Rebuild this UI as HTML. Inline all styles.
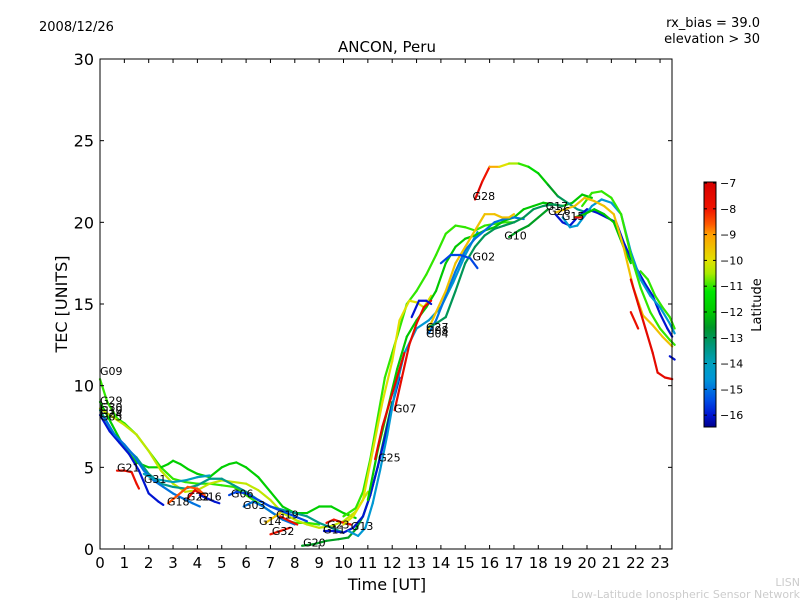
<!DOCTYPE html>
<html><head><meta charset="utf-8"><style>
body{margin:0;background:#fff;}
svg{display:block;font-family:"DejaVu Sans","Liberation Sans",sans-serif;}
</style></head><body>
<svg id="chart" width="800" height="600" viewBox="0 0 800 600">
<rect width="800" height="600" fill="#fff"/>
<text x="39" y="31" font-size="13">2008/12/26</text>
<text x="760" y="27" font-size="13" text-anchor="end">rx_bias = 39.0</text>
<text x="760" y="43" font-size="13" text-anchor="end">elevation &gt; 30</text>
<text x="387" y="52" font-size="15" text-anchor="middle">ANCON, Peru</text>
<text x="67" y="304" font-size="16" text-anchor="middle" transform="rotate(-90 67 304)">TEC [UNITS]</text>
<text x="387" y="590" font-size="16" text-anchor="middle">Time [UT]</text>
<text x="800" y="586" font-size="11" fill="#ccc" text-anchor="end">LISN</text>
<text x="800" y="598" font-size="11" fill="#ccc" text-anchor="end">Low-Latitude Ionospheric Sensor Network</text>
<g id="plot"></g>
<g id="axes"></g>
<g id="cbar"></g>
</svg>
<script>
const xTicks=[0,1,2,3,4,5,6,7,8,9,10,11,12,13,14,15,16,17,18,19,20,21,22,23];
const yTicks=[0,5,10,15,20,25,30];
const cbTicks=[-7,-8,-9,-10,-11,-12,-13,-14,-15,-16];
const satNames=['G09','G29','G30','G24','G05','','G21','G31','G18','G22','G16','G06','G03','G14','G32','G19','G20','G23','G11','G13','','','','G07','G25','G04','G27','G08','G28','G02','','G10','','','','','','','','','',''];
const satLats=[-11,-11.8,-10.3,-13.5,-16,-15,-7.8,-14,-8.5,-7.5,-16,-15.5,-15,-9.5,-8,-7.8,-12.5,-8,-16,-14.5,-11,-10,-12,-7.6,-7.4,-15,-9.5,-13,
[-7.2,-8,-9.2,-10,-10.5,-11,-11.5,-12,-12.5,-13,-13.5,-13.5,-13.5],-15.5,-16,-12.5,-16,-14.5,-11,-12,-9.5,-7.5,-7.8,-7.8,-11,-16];
const satTimes=[
[0,0.3,0.7,1,1.5,2,2.5,3,3.5,4,4.5,5,5.5,6,6.5,7,7.5,8,8.5,9],
[0,0.5,1,1.5,2,2.5,2.8,3,3.3,3.6,4,4.5,5,5.3,5.6,6,6.5,7,7.5,8,8.5,9,9.5,10,10.5],
[0,0.5,1,1.5,2,2.5,3,3.5,4,4.5,5,5.5,6,6.5,7,7.5,8,8.5,9,9.5,10,10.5,11],
[0,0.5,1,1.5,2,2.5,3,3.5,4,4.5,5,5.5,6,6.5,7,7.5,8,8.5,9,9.5,10],
[0,0.4,0.8,1.2,1.6,2,2.4,2.6],
[0.2,0.6,1,1.4,1.8,2.2,2.6,3,3.4,3.8,4.1],
[0.7,1.0,1.3,1.5,1.6],
[1.8,2.2,2.6,3,3.5,4,4.5],
[2.8,3.2,3.6,4.0,4.3],
[3.6,3.9,4.2],
[4.1,4.4,4.7,4.9],
[5.3,5.6,6,6.5,7,7.5,8,8.5],
[5.9,6.3,6.7,7.1,7.5,8],
[6.8,7.1,7.4],
[7.0,7.4,7.8],
[7.4,7.8,8.1],
[8.3,8.8,9.3,9.8,10.2,10.5,10.8,11.1,11.4,11.7,12],
[9.3,9.6,10,10.3],
[9.2,9.6,10,10.4,10.8,11.1,11.4,11.7,12,12.3],
[10.2,10.6,10.9,11.2,11.5,11.8,12.1,12.5,13,13.5,14,14.5,15,15.5],
[10,10.5,10.8,11.1,11.4,11.7,12,12.3,12.6,13,13.4,13.8,14.2,14.6,15,15.4,15.8,16.2,16.6,17],
[10,10.4,10.8,11.2,11.6,12,12.3,12.7,13,13.3,13.6],
[11,11.4,11.8,12.2,12.6,13,13.4,13.8,14.2,14.6,15,15.4,15.8,16.2,16.6,17,17.4,17.8,18.2,18.6,19,19.4,19.8,20.2],
[12.1,12.4,12.7,13,13.3,13.6],
[11.3,11.6,11.9,12.2,12.5],
[13.5,13.8,14.2,14.6,15,15.4,15.8,16.2,16.6,17,17.4],
[13.5,13.8,14.2,14.6,15,15.4,15.8,16.2,16.5,16.8,17],
[13.5,13.8,14.2,14.6,15,15.4,15.8,16.2,16.6,17,17.4,17.8,18.2,18.6,19],
[15.4,15.7,16,16.4,16.8,17.2,17.6,18,18.4,18.8,19.2,19.6,20],
[14,14.4,14.8,15.2,15.5],
[12.8,13.1,13.4,13.6],
[16.8,17.2,17.6,18,18.4],
[18.7,19,19.3,19.6,20,20.4,20.8,21.2,21.5,21.8,22.1,22.4,22.7,23,23.3,23.5],
[19,19.3,19.6,19.9,20.2,20.6,21,21.4,21.8,22.2,22.6,23,23.4,23.6],
[19.8,20.2,20.6,21,21.4,21.8,22.2,22.6,23,23.4,23.6],
[19.5,19.9,20.3,20.7,21.1,21.5,21.8],
[18.7,19.1,19.5,19.9,20.3,20.7,21.1,21.5,21.9,22.3,22.7,23.1,23.5],
[21.8,22.1,22.4,22.7,22.9,23.2,23.5],
[19.5,19.8],
[21.8,22.1],
[22.2,22.5,22.8,23.1,23.4,23.6],
[23.4,23.6]];
const satTec=[
[10.4,9,8,7.7,7,6,5,4.3,4.1,4,4,3.9,3.8,3.3,2.8,2.3,1.8,1.6,1.6,1.5],
[9,7.6,6.2,5.3,5,5,5.2,5.4,5.2,4.9,4.6,4.4,5,5.2,5.3,5,4.4,3.5,2.6,2.2,2.2,2.6,2.6,2.2,1.9],
[8.6,8.1,7.6,7,6,4.8,4,3.5,3.6,4,4.2,4.1,4,3.6,3,2.2,1.8,1.5,1.3,1.4,1.7,2.3,3.5],
[8.5,7.2,6.3,5.6,4.6,4,3.8,3.7,3.9,4.3,4.3,3.9,3.5,3,2.6,2.4,2.2,2,1.6,1.3,1.0],
[8.2,7.2,6.5,5.8,4.8,3.4,2.9,2.7],
[8,7,6.4,5.7,4.8,4.2,3.8,3.4,3.1,2.8,2.6],
[4.8,4.8,4.7,4.0,3.7],
[4.6,4.3,4.2,4.1,4.2,4.4,4.5],
[2.8,3.3,3.8,3.7,3.3],
[3.1,3.6,3.3],
[3.3,3.1,2.9,2.8],
[3.3,3.5,3.4,3,2.6,2.3,2.0,1.7],
[2.6,2.9,2.6,2.2,1.8,1.5],
[1.6,1.9,2.2],
[0.9,1.1,1.3],
[2.0,1.7,1.5],
[0.2,0.3,0.5,0.6,0.7,1.2,2,3.3,5,7,9],
[1.6,1.8,1.6,1.5],
[1.1,1.1,1.0,1.3,2,3.3,5,6.8,8.8,10.5],
[1.1,0.8,1.3,2.8,4.8,7,9.5,12,13.5,14,14.8,16.3,18,19.4],
[2,2.5,3.5,5.5,8,10.5,12,13.5,15,15.8,16.8,18.0,19.3,19.8,19.7,19.5,19.8,19.9,20,20],
[1.5,2,3,6,9,11.5,14,15.2,15.1,14.8,15.5],
[3,6,8.5,11,13,14,14.8,15.8,17.5,18.5,19,19.2,19.5,19.7,20.1,20.3,20.8,21,21.2,21.1,21,21.2,21.7,21.5],
[8.5,10.5,12.5,13.8,14.8,15.2],
[5.5,7.5,9,10.5,12],
[13.2,14,15.5,17,18.3,19,19.5,20,20.2,20.3,20.2],
[13.5,14.5,15.8,17.5,18.5,19.5,20.5,20.5,20.3,20.3,20.5],
[13.6,13.8,14.2,15.8,17.5,18.5,19.2,19.6,19.8,20,20.3,20.8,21,21.1,21],
[21.4,22.5,23.4,23.4,23.6,23.6,23.4,23.0,22.3,21.6,21.2,20.8,20.6],
[17.5,18,18,17.8,17.2],
[14.2,15.2,15.2,15.0],
[19.1,19.5,19.8,20.3,20.8],
[20.5,20,19.8,20.3,20.8,20.6,20.3,20.0,18.8,17.8,17,16.2,15.5,14.4,13.5,13],
[20.3,19.7,19.8,20.4,21,21.4,21.2,20.5,18.2,16.5,15.5,14.8,13.8,13.2],
[21,21.8,21.9,21.5,20.5,18,16,14.5,13.5,12.8,12.5],
[20.3,20.5,20.8,20.5,20,18.5,17.5],
[20.6,20.8,21.0,21.5,21.3,21.0,20.5,18.5,16,14.3,13.7,13.0,12.4],
[16.5,15,13.5,12,10.8,10.5,10.4],
[20.3,20.3],
[14.5,13.5],
[17,16.5,15.5,14.8,14.2,13.5],
[11.8,11.6]];
const labelNames=['G09','G29','G30','G10','G24','G05','G21','G31','G18','G22','G16','G06','G03','G14','G19','G32','G20','G23','G11','G13','G25','G07','G27','G08','G04','G02','G28','G10','G17','G26','G15'];
const labelT=[0,0,0,0,0,0,0.7,1.8,2.75,3.57,4.07,5.38,5.87,6.53,7.23,7.06,8.34,9.32,9.16,10.3,11.42,12.07,13.39,13.39,13.39,15.3,15.3,16.6,18.3,18.4,18.97];
const labelV=[10.9,9.1,8.7,8.5,8.3,8.1,5.0,4.3,2.9,3.2,3.2,3.4,2.7,1.7,2.1,1.1,0.4,1.5,1.2,1.4,5.6,8.6,13.6,13.4,13.2,17.9,21.6,19.2,21.0,20.7,20.4];

const X0=100,X1=672,Y0=549,Y1=59;
const xs=t=>X0+t*24.35;
const ys=v=>Y0-(v/30)*(Y0-Y1);
const LMIN=-16.46,LMAX=-6.96;
const CMAP=[[-6.96,[215,0,0]],[-8,[240,20,0]],[-8.6,[255,90,0]],[-9,[255,160,0]],[-10,[225,225,0]],[-10.5,[170,235,0]],[-11.2,[0,230,0]],[-12,[0,200,0]],[-12.6,[0,150,40]],[-13.3,[0,150,120]],[-14,[0,160,190]],[-14.6,[0,150,215]],[-15.4,[0,80,230]],[-16,[0,20,210]],[-16.46,[0,0,140]]];
function jet(lat){
 if(lat>=CMAP[0][0])return `rgb(${CMAP[0][1]})`;
 for(let i=0;i<CMAP.length-1;i++){
  const a=CMAP[i],b=CMAP[i+1];
  if(lat<=a[0]&&lat>=b[0]){const f=(a[0]-lat)/(a[0]-b[0]);
   return `rgb(${a[1].map((c,k)=>Math.round(c+(b[1][k]-c)*f)).join(',')})`;}
 }
 return `rgb(${CMAP[CMAP.length-1][1]})`;
}
const NS='http://www.w3.org/2000/svg';
const plot=document.getElementById('plot');
const axes=document.getElementById('axes');
const cbar=document.getElementById('cbar');
function mk(tag,attrs,parent){const e=document.createElementNS(NS,tag);for(const k in attrs)e.setAttribute(k,attrs[k]);parent.appendChild(e);return e;}

satTimes.forEach((ts,i)=>{
 const g=mk('g',{},plot);
 
 
 const lat=satLats[i];
 for(let j=0;j<ts.length-1;j++){
  const l=Array.isArray(lat)?lat[j]:lat;
  const seg=mk('line',{x1:xs(ts[j]),y1:ys(satTec[i][j]),x2:xs(ts[j+1]),y2:ys(satTec[i][j+1]),stroke:jet(l),'stroke-width':2.2,'stroke-linecap':'round'},g);
  
  
 }
});
labelNames.forEach((n,i)=>{
 const t=mk('text',{x:xs(labelT[i]),y:ys(labelV[i])+4,'font-size':11},plot);
 t.textContent=n;
 
 
});
const frame=mk('rect',{x:X0,y:Y1,width:X1-X0,height:Y0-Y1,fill:'none',stroke:'#000','stroke-width':1},axes);


xTicks.forEach(t=>{
 const x=xs(t);
 mk('line',{x1:x,y1:Y0,x2:x,y2:Y0-4,stroke:'#000'},axes);
 mk('line',{x1:x,y1:Y1,x2:x,y2:Y1+4,stroke:'#000'},axes);
 const tx=mk('text',{x:x,y:Y0+19,'font-size':15,'text-anchor':'middle'},axes);
 tx.textContent=t;
 
 
});
yTicks.forEach(v=>{
 const y=ys(v);
 mk('line',{x1:X0,y1:y,x2:X0+4,y2:y,stroke:'#000'},axes);
 mk('line',{x1:X1,y1:y,x2:X1-4,y2:y,stroke:'#000'},axes);
 const tx=mk('text',{x:X0-6,y:y+6,'font-size':16,'text-anchor':'end'},axes);
 tx.textContent=v;
 
 
});
// colorbar
const CBX=704,CBW=12,CBT=182,CBB=427;
const cy=l=>CBT+(LMAX-l)/(LMAX-LMIN)*(CBB-CBT);
for(let y=CBT;y<CBB;y++){
 const l=LMAX-(y-CBT+0.5)/(CBB-CBT)*(LMAX-LMIN);
 mk('rect',{x:CBX,y:y,width:CBW,height:1.2,fill:jet(l)},cbar);
}
const cbf=mk('rect',{x:CBX,y:CBT,width:CBW,height:CBB-CBT,fill:'none',stroke:'#000'},cbar);


cbTicks.forEach(l=>{
 const y=cy(l);
 mk('line',{x1:CBX,y1:y,x2:CBX+3,y2:y,stroke:'#000'},cbar);
 mk('line',{x1:CBX+CBW,y1:y,x2:CBX+CBW-3,y2:y,stroke:'#000'},cbar);
 const tx=mk('text',{x:CBX+CBW+4,y:y+4,'font-size':11},cbar);
 tx.textContent='\u2212'+Math.abs(l);
 
 
});
const ct=mk('text',{x:761,y:305,'font-size':13,'text-anchor':'middle',transform:'rotate(-90 761 305)'},cbar);
ct.textContent='Latitude';


</script>
</body></html>
